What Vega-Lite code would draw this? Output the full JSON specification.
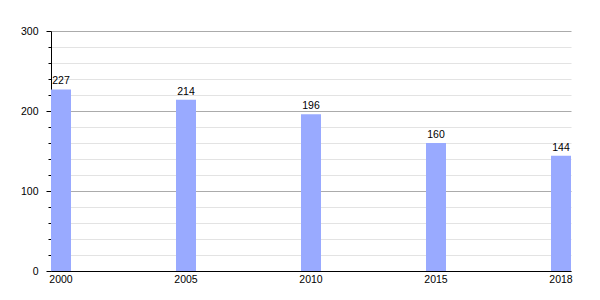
{
  "$schema": "https://vega.github.io/schema/vega-lite/v6.json",
  "autosize": "none",
  "width": 520,
  "height": 240,
  "padding": {"left": 51, "top": 31, "right": 29, "bottom": 29},
  "background": "white",
  "config": {
    "view": {"stroke": null},
    "font": "Liberation Sans",
    "axis": {"labelFont": "Liberation Sans", "labelFontSize": 10.5, "labelColor": "#000"}
  },
  "data": {"values": [
    {"year": "2000", "value": 227},
    {"year": "2005", "value": 214},
    {"year": "2010", "value": 196},
    {"year": "2015", "value": 160},
    {"year": "2018", "value": 144}
  ]},
  "encoding": {
    "x": {
      "field": "year", "type": "ordinal",
      "scale": {"type": "band", "paddingInner": 0.84, "paddingOuter": 0},
      "axis": {"title": null, "labelAngle": 0, "ticks": false, "domainColor": "#000", "labelPadding": 3, "grid": false}
    },
    "y": {
      "field": "value", "type": "quantitative",
      "scale": {"domain": [0, 300], "nice": false},
      "axis": {
        "title": null,
        "values": [0, 20, 40, 60, 80, 100, 120, 140, 160, 180, 200, 220, 240, 260, 280, 300],
        "labelExpr": "datum.value % 100 === 0 ? datum.label : ''",
        "grid": true,
        "gridColor": {"condition": {"test": "datum.value % 100 === 0", "value": "#ababab"}, "value": "#e3e3e3"},
        "tickSize": {"condition": {"test": "datum.value % 100 === 0", "value": 5}, "value": 3},
        "tickColor": "#000",
        "domainColor": "#000",
        "labelPadding": 8
      }
    }
  },
  "layer": [
    {"mark": {"type": "bar", "color": "#99aaff"}},
    {"mark": {"type": "text", "baseline": "bottom", "dy": -3, "fontSize": 10.5, "color": "#000"},
     "encoding": {"text": {"field": "value", "type": "quantitative"}}}
  ]
}
